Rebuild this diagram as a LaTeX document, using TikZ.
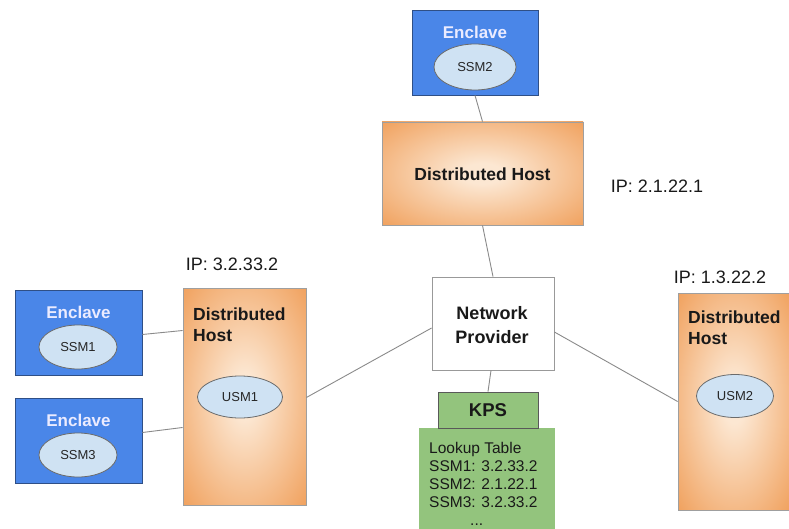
\documentclass[tikz,border=0pt]{standalone}
\usepackage{fontspec}
\setmainfont{Liberation Sans}
\usetikzlibrary{shapes.geometric,calc}
\definecolor{encblue}{HTML}{4A86E8}
\definecolor{encborder}{HTML}{2F4F86}
\definecolor{ellfill}{HTML}{CFE2F3}
\definecolor{ellborder}{HTML}{6B6B6B}
\definecolor{hostout}{HTML}{F0A05C}
\definecolor{hostin}{HTML}{FCE7D2}
\definecolor{kpsgreen}{HTML}{93C47D}
\definecolor{lineg}{HTML}{8A8A8A}
\pgfdeclareradialshading{hostshade}{\pgfpoint{0bp}{0bp}}{color(0bp)=(hostin); color(5bp)=(hostin); color(36bp)=(hostout); color(50bp)=(hostout)}
\tikzset{
  enclavebox/.style={draw=encborder, line width=0.8pt, fill=encblue, rectangle, inner sep=0pt},
  ssm/.style={ellipse, draw=ellborder, line width=0.8pt, fill=ellfill, inner sep=0pt,
    font=\fontsize{13}{15}\selectfont, text=black!85},
  hostbox/.style={rectangle, draw=gray!75, line width=0.8pt, inner sep=0pt,
    shading=hostshade},
  boldlbl/.style={font=\fontsize{17.5}{21}\selectfont\bfseries, text=black!90, align=center, inner sep=0pt},
  enclbl/.style={font=\fontsize{17}{20}\selectfont\bfseries, text=white!92!blue, inner sep=0pt},
  iplbl/.style={font=\fontsize{18}{21}\selectfont, text=black!90, inner sep=0pt},
  conn/.style={draw=lineg, line width=0.9pt},
}
\begin{document}
\begin{tikzpicture}[x=1pt,y=-1pt]
\useasboundingbox (0,0) rectangle (789,529);
% top enclave
\node[enclavebox, minimum width=126pt, minimum height=85pt] (enc2) at (475,52.5) {};
\node[enclbl] (enc2t) at (475,32) {Enclave};
\node[ssm, minimum width=82pt, minimum height=46pt] (ssm2) at (475,67) {SSM2};
% top host
\node[hostbox, minimum width=201pt, minimum height=103pt] (tophost) at (482.5,173.5) {};
\node[boldlbl] (tophostt) at (482.5,174) {Distributed Host};
\node[iplbl] (ip2) at (657,186) {IP: 2.1.22.1};
% network provider
\node[rectangle, draw=gray!80, line width=0.8pt, fill=white, minimum width=122pt, minimum height=93pt] (np) at (493,323.5) {};
\node[font=\fontsize{18}{24}\selectfont\bfseries, text=black!90, align=center, inner sep=0pt] (npt) at (492,325) {Network\\Provider};
% KPS
\node[rectangle, fill=kpsgreen, inner sep=0pt, minimum width=136pt, minimum height=107pt] (lookup) at (487,481.5) {};
\node[rectangle, draw=gray!70!black, line width=0.8pt, fill=kpsgreen, minimum width=100pt, minimum height=36pt] (kps) at (488,410) {};
\node[font=\fontsize{18.5}{21}\selectfont\bfseries, text=black!90, inner sep=0pt] (kpst) at (488,410) {KPS};
\node[font=\fontsize{15.5}{18}\selectfont, text=black!90, align=left, anchor=north west, inner sep=0pt] (lookupt) at (429,442.5) {Lookup Table\\SSM1: 3.2.33.2\\SSM2: 2.1.22.1\\SSM3: 3.2.33.2\\\hspace*{41pt}...};
% left host
\node[hostbox, minimum width=123pt, minimum height=217pt] (lhost) at (244.5,396.5) {};
\node[boldlbl, align=left, anchor=north west] (lhostt) at (193,308) {Distributed\\Host};
\node[ssm, minimum width=85pt, minimum height=42pt] (usm1) at (240,397) {USM1};
\node[iplbl] (ip3) at (232,264) {IP: 3.2.33.2};
% left enclaves
\node[enclavebox, minimum width=127pt, minimum height=85pt] (enc1) at (78.5,332.5) {};
\node[enclbl] (enc1t) at (78.5,312) {Enclave};
\node[ssm, minimum width=78pt, minimum height=44pt] (ssm1) at (78,347) {SSM1};
\node[enclavebox, minimum width=127pt, minimum height=85pt] (enc3) at (78.5,440.5) {};
\node[enclbl] (enc3t) at (78.5,420) {Enclave};
\node[ssm, minimum width=78pt, minimum height=44pt] (ssm3) at (78,455) {SSM3};
% right host
\node[hostbox, minimum width=112pt, minimum height=217pt] (rhost) at (734,401.5) {};
\node[boldlbl, align=left, anchor=north west] (rhostt) at (688,311) {Distributed\\Host};
\node[ssm, minimum width=77pt, minimum height=43pt] (usm2) at (735,396) {USM2};
\node[iplbl] (ip1) at (720,277) {IP: 1.3.22.2};
% connectors
\draw[conn] (enc2.south) -- (tophost.north);
\draw[conn] (tophost.south) -- (np.north);
\draw[conn] ([xshift=-2pt]np.south) -- (kps.north);
\draw[conn] ([yshift=-2pt]enc1.east) -- ([yshift=66pt]lhost.west);
\draw[conn] ([yshift=8pt]enc3.east) -- ([yshift=-31pt]lhost.west);
\draw[conn] ([yshift=-1pt]lhost.east) -- ([yshift=-4.5pt]np.west);
\draw[conn] ([yshift=-8.5pt]np.east) -- (rhost.west);
\end{tikzpicture}
\end{document}
